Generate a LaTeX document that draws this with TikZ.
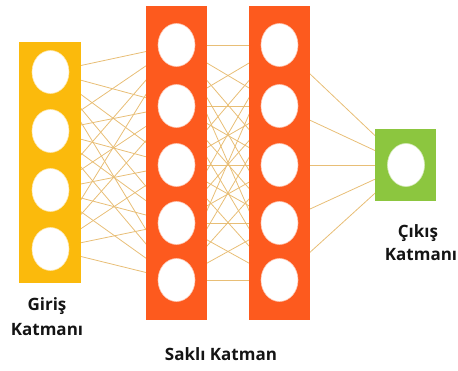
\documentclass[tikz,border=0pt]{standalone}
\usepackage{fontspec}
\setmainfont{Open Sans}
\usetikzlibrary{shapes.geometric}
\definecolor{inyel}{HTML}{FBBA0C}
\definecolor{hidor}{HTML}{FD5A1E}
\definecolor{outgr}{HTML}{8CC63F}
\definecolor{conn}{RGB}{232,190,118}
\definecolor{txt}{HTML}{141414}
\tikzset{
  layerbox/.style={fill=#1, draw=none},
  neuron/.style={ellipse, fill=white, draw=#1!35, line width=0.6pt, minimum width=37pt, minimum height=43pt, inner sep=0pt},
  link/.style={draw=conn, line width=0.8pt},
  lbl/.style={font=\fontsize{17}{20}\selectfont\bfseries, text=txt, anchor=base, inner sep=0pt}
}
\pgfdeclarelayer{bg}
\pgfsetlayers{bg,main}
\begin{document}
\begin{tikzpicture}[x=1pt,y=-1pt]
\useasboundingbox (0,0) rectangle (458,370);
% layer boxes
\fill[layerbox=inyel] (19,42) rectangle (81,283);
\fill[layerbox=hidor] (146,6) rectangle (207,320);
\fill[layerbox=hidor] (249,6) rectangle (310,320);
\fill[layerbox=outgr] (375,129) rectangle (436,201);
% neurons
\foreach \i/\y in {1/72,2/131,3/190,4/249} \node[neuron=inyel] (i\i) at (50.5,\y) {};
\foreach \i/\y in {1/45,2/106,3/165,4/223,5/280} \node[neuron=hidor] (a\i) at (176.5,\y) {};
\foreach \i/\y in {1/45,2/106,3/165,4/223,5/280} \node[neuron=hidor] (b\i) at (279.5,\y) {};
\node[neuron=outgr] (o) at (406,165) {};
% connectors (behind the boxes)
\begin{pgfonlayer}{bg}
\foreach \i in {1,...,4} \foreach \j in {1,...,5} \draw[link] (i\i.center) -- (a\j.center);
\foreach \i in {1,...,5} \foreach \j in {1,...,5} \draw[link] (a\i.center) -- (b\j.center);
\foreach \i in {1,...,5} \draw[link] (b\i.center) -- (o.center);
\end{pgfonlayer}
% labels
\node[lbl] (g1) at (47,310) {Giriş};
\node[lbl] (g2) at (47,335) {Katmanı};
\node[lbl] (s1) at (221,360) {Saklı Katman};
\node[lbl] (c1) at (418,237) {Çıkış};
\node[lbl] (c2) at (421,260) {Katmanı};
\end{tikzpicture}
\end{document}
